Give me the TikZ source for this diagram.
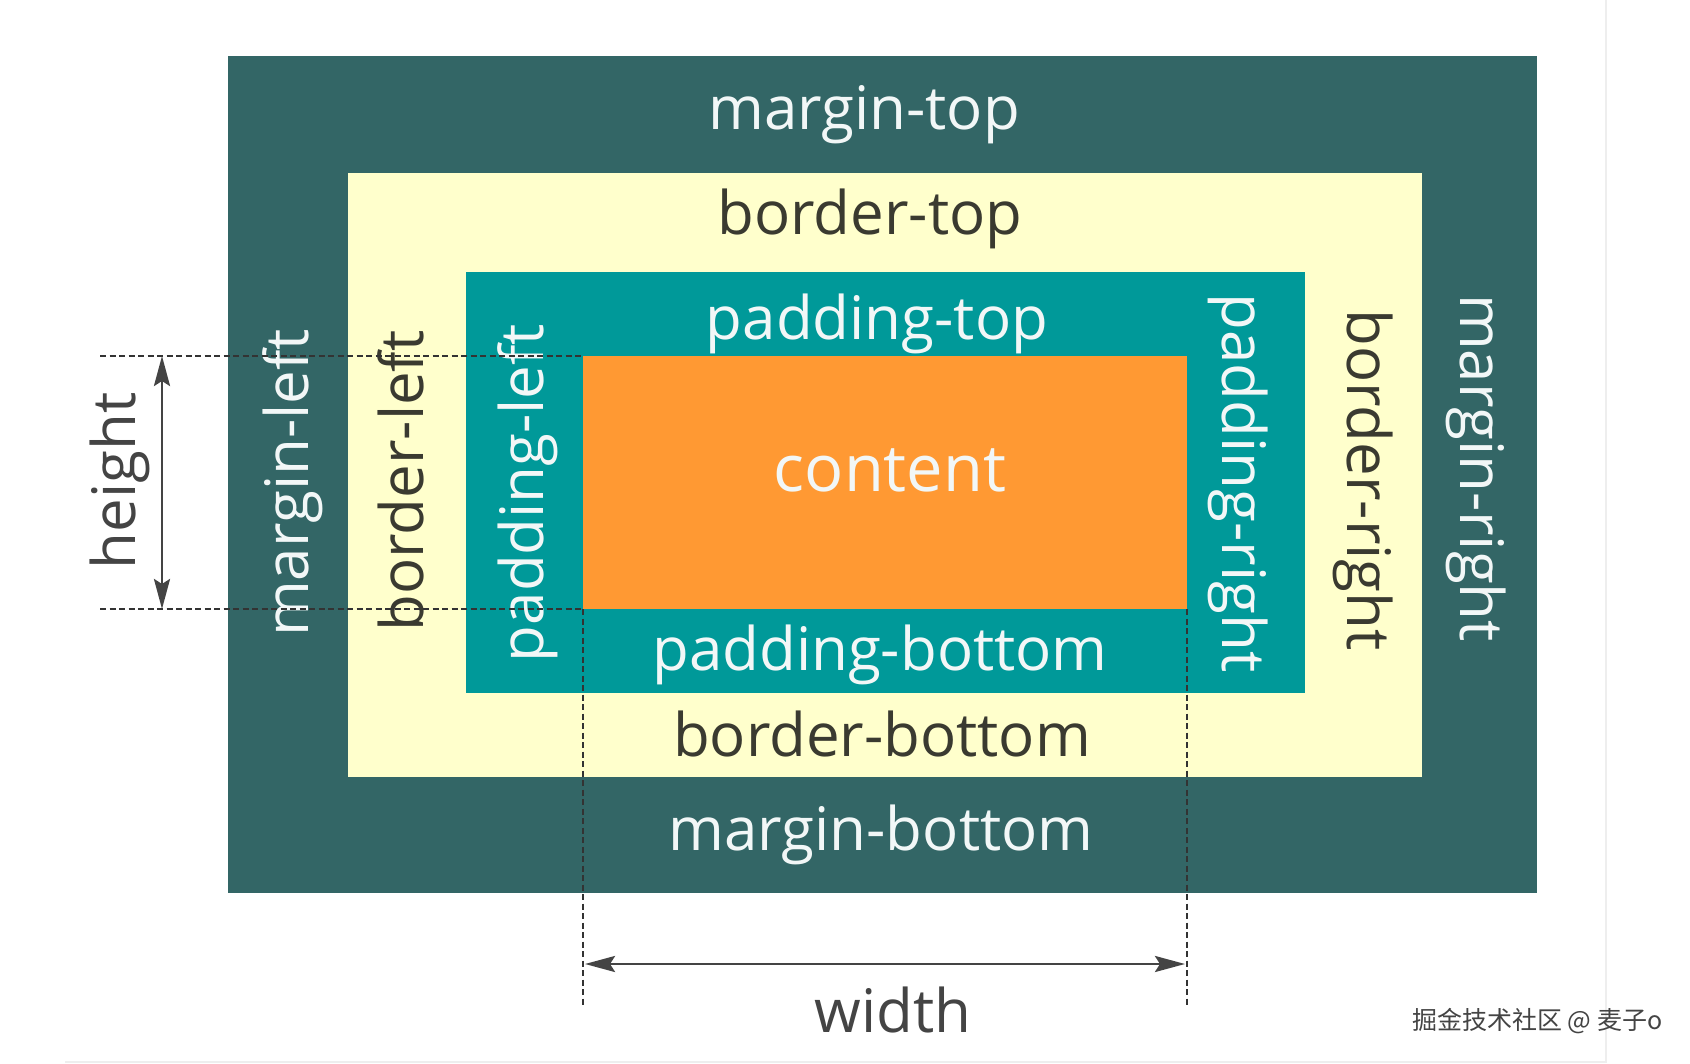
\documentclass[tikz,border=0pt]{standalone}
\usepackage{fontspec}
\setmainfont{Open Sans}
\newfontfamily\cjk{Noto Sans CJK SC}
\usetikzlibrary{arrows.meta}
\definecolor{marginc}{HTML}{336666}
\definecolor{borderc}{HTML}{FFFFCC}
\definecolor{paddingc}{HTML}{009999}
\definecolor{contentc}{HTML}{FF9933}
\definecolor{lighttxt}{HTML}{F2F7F7}
\definecolor{darktxt}{HTML}{3A3A30}
\definecolor{linec}{HTML}{333333}
\definecolor{dimtxt}{HTML}{444444}
\definecolor{framec}{HTML}{EEEEEE}
\begin{document}
\begin{tikzpicture}[x=1pt,y=-1pt,
  box/.style={rectangle, inner sep=0pt, outer sep=0pt, anchor=north west, draw=none},
  lbl/.style={font=\fontsize{60}{72}\selectfont, anchor=base, inner sep=0pt},
  onDark/.style={lbl, text=lighttxt},
  onLight/.style={lbl, text=darktxt},
  dimlbl/.style={lbl, text=dimtxt},
  guide/.style={draw=linec, line width=1.8pt, dash pattern=on 6pt off 3.5pt},
  dimarrow/.style={draw=dimtxt, line width=2.8pt, {Stealth[length=30pt,width=16pt,inset=5pt]}-{Stealth[length=30pt,width=16pt,inset=5pt]}}
]
\useasboundingbox (0,0) rectangle (1690,1064);
\fill[white] (0,0) rectangle (1690,1064);
% faint screenshot frame
\coordinate (fTop) at (1606,0);
\coordinate (fCorner) at (1606,1062);
\coordinate (fLeft) at (65,1062);
\draw[framec, line width=1.5pt] (fTop) -- (fCorner) -- (fLeft);

% boxes
\node[box, fill=marginc, minimum width=1309pt, minimum height=837pt] (margin) at (228,56) {};
\node[box, fill=borderc, minimum width=1074pt, minimum height=604pt] (border) at (348,173) {};
\node[box, fill=paddingc, minimum width=839pt, minimum height=421pt] (padding) at (466,272) {};
\node[box, fill=contentc, minimum width=604pt, minimum height=253pt] (content) at (583,356) {};

% horizontal labels
\node[onDark]  (mt) at (864,130) {margin-top};
\node[onLight] (bt) at (870,235) {border-top};
\node[onDark]  (pt) at (877,340) {padding-top};
\node[onDark, font=\fontsize{65}{78}\selectfont] (ct) at (890,492) {content};
\node[onDark]  (pb) at (880,670) {padding-bottom};
\node[onLight] (bb) at (882,756) {border-bottom};
\node[onDark]  (mb) at (881,850) {margin-bottom};

% vertical labels
\node[onDark, rotate=90]   (ml) at (308,483) {margin-left};
\node[onLight, rotate=90]  (bl) at (423,481) {border-left};
\node[onDark, rotate=90]   (pl) at (543,493) {padding-left};
\node[onDark, rotate=-90]  (pr) at (1222,483) {padding-right};
\node[onLight, rotate=-90] (br) at (1347,480) {border-right};
\node[onDark, rotate=-90]  (mr) at (1460,468) {margin-right};

% guide lines
\coordinate (gTL) at (100,356);
\coordinate (gBL) at (100,609);
\coordinate (gLB) at (583,1005);
\coordinate (gRB) at (1187,1005);
\draw[guide] (gTL) -- (content.north west);
\draw[guide] (gBL) -- (content.south west);
\draw[guide] (content.south west) -- (gLB);
\draw[guide] (content.south east) -- (gRB);

% dimension arrows
\coordinate (hT) at (162,356);
\coordinate (hB) at (162,609);
\coordinate (wL) at (585,964);
\coordinate (wR) at (1185,964);
\draw[dimarrow] (hT) -- (hB);
\draw[dimarrow] (wL) -- (wR);

\node[dimlbl, rotate=90] (hl) at (135,481) {height};
\node[dimlbl] (wl) at (893,1032) {width};

% watermark
\node[anchor=base west, inner sep=0pt, text=dimtxt, font=\cjk\fontsize{25}{30}\selectfont] (wm) at (1412,1029) {掘金技术社区 @ 麦子o};
\end{tikzpicture}
\end{document}
